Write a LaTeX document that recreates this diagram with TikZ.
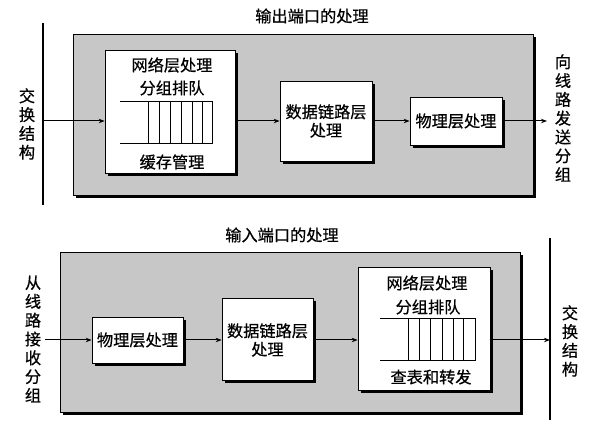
\documentclass[tikz,border=0pt]{standalone}
\usepackage{fontspec}
\setmainfont{Noto Sans CJK SC}[UprightFeatures={FakeBold=0.6}]
\usetikzlibrary{shadows,arrows.meta}
\begin{document}
\begin{tikzpicture}[x=1pt,y=-1pt,
  txt/.style={inner sep=0pt, font=\fontsize{16.2}{18.5}\selectfont},
  vtxt/.style={inner sep=0pt, align=center, font=\fontsize{16.2}{18.8}\selectfont},
  panel/.style={draw=black, line width=0.6pt, fill=black!22, inner sep=0pt,
     drop shadow={shadow xshift=3pt, shadow yshift=-3pt, fill=black, opacity=1}},
  box/.style={draw=black, line width=0.7pt, fill=white, inner sep=0pt,
     drop shadow={shadow xshift=3pt, shadow yshift=-3pt, fill=black, opacity=1}},
  bar/.style={line width=2.6pt},
  arr/.style={line width=1pt, -{Stealth[length=6pt,width=4.5pt]}},
  q/.style={line width=0.9pt}
]
\useasboundingbox (0,0) rectangle (590,430);

% ---------------- top: output port ----------------
\node[txt] (t1) at (312,16) {输出端口的处理};
\coordinate (b1t) at (43,23);
\coordinate (b1b) at (43,205);
\draw[bar] (b1t) -- (b1b);
\node[vtxt] (sw1) at (27,124) {交\\换\\结\\构};

\node[panel, minimum width=460pt, minimum height=161pt] (G1) at (303,114.5) {};
\node[box, minimum width=130pt, minimum height=123pt] (N1) at (170,111.5) {};
\node[box, minimum width=92pt, minimum height=80pt] (D1) at (326,121) {};
\node[box, minimum width=92pt, minimum height=48pt] (P1) at (456,121) {};

\node[txt] (n1a) at (172,65) {网络层处理};
\node[txt] (n1b) at (172,88) {分组排队};
\node[txt] (n1c) at (172,162) {缓存管理};
\node[txt, align=center] (d1t) at (326,121) {数据链路层\\处理};
\node[txt] (p1t) at (456,121) {物理层处理};

% queue
\draw[q] (120,101) -- (212,101) -- (212,143) -- (120,143);
\foreach \x in {148,159,170,181,192,202} \draw[q] (\x,101) -- (\x,143);

\coordinate (a1) at (43,121);
\coordinate (o1) at (547,121);
\draw[arr] (a1) -- (a1 -| N1.west);
\draw[arr] (N1.east |- a1) -- (D1.west);
\draw[arr] (D1.east) -- (P1.west);
\draw[arr] (P1.east) -- (o1);
\node[vtxt] (snd) at (563,118) {向\\线\\路\\发\\送\\分\\组};

% ---------------- bottom: input port ----------------
\node[txt] (t2) at (282,235) {输入端口的处理};
\node[vtxt] (rcv) at (33,339) {从\\线\\路\\接\\收\\分\\组};

\node[panel, minimum width=460pt, minimum height=160pt] (G2) at (290,332) {};
\node[box, minimum width=91pt, minimum height=46pt] (P2) at (137.5,340) {};
\node[box, minimum width=91pt, minimum height=82pt] (D2) at (267.5,339) {};
\node[box, minimum width=132pt, minimum height=123pt] (N2) at (424,328.5) {};

\node[txt] (p2t) at (137.5,340) {物理层处理};
\node[txt, align=center] (d2t) at (267.5,340) {数据链路层\\处理};
\node[txt] (n2a) at (427,283) {网络层处理};
\node[txt] (n2b) at (428,307) {分组排队};
\node[txt] (n2c) at (431,377) {查表和转发};

\draw[q] (380,318) -- (475,318) -- (475,360) -- (380,360);
\foreach \x in {408,419,430,442,453,463} \draw[q] (\x,318) -- (\x,360);

\coordinate (b2t) at (550,238);
\coordinate (b2b) at (550,420);
\draw[bar] (b2t) -- (b2b);
\node[vtxt] (sw2) at (570,341) {交\\换\\结\\构};

\coordinate (a2) at (45,340);
\coordinate (e2) at (550,340);
\draw[arr] (a2) -- (P2.west);
\draw[arr] (P2.east) -- (P2.east -| D2.west);
\draw[arr] (D2.east |- a2) -- (a2 -| N2.west);
\draw[arr] (N2.east |- a2) -- (e2);
\end{tikzpicture}
\end{document}
